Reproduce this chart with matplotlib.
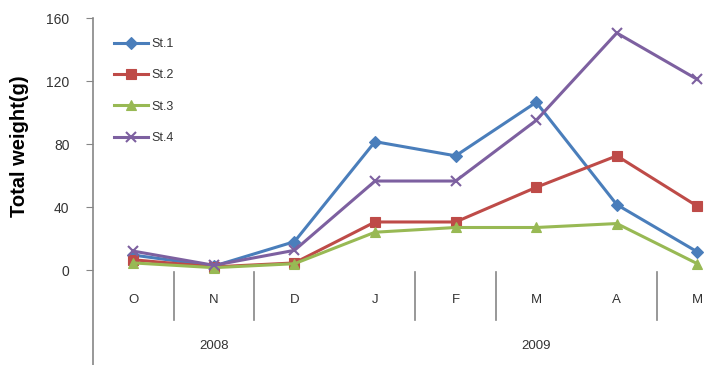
import matplotlib
matplotlib.use("Agg")
import matplotlib.pyplot as plt

plt.rcParams['font.family'] = ['Liberation Sans', 'DejaVu Sans']

months = ["O", "N", "D", "J", "F", "M", "A", "M"]
years = ["2008", "2009"]
st1 = [9.5, 2.5, 18, 81.5, 72.5, 106.5, 41.5, 11.5]
st2 = [6.5, 2, 4.5, 30.5, 30.5, 52.5, 72.5, 40.5]
st3 = [4.5, 1.5, 4, 24, 27, 27, 29.5, 4]
st4 = [12, 3, 12.5, 56.5, 56.5, 95, 150.5, 121]
yticks = [0, 40, 80, 120, 160]

series = [
    ("St.1", st1, "#4A7EBB", "D", 6),
    ("St.2", st2, "#BE4B48", "s", 7),
    ("St.3", st3, "#98B954", "^", 7),
    ("St.4", st4, "#7D60A0", "x", 7),
]

fig = plt.figure(figsize=(7.28, 3.65), dpi=100)
ax = fig.add_axes([93 / 728, 0.0, 1 - 93 / 728, 1 - 18 / 365])

x = list(range(len(months)))
for name, vals, color, mk, ms in series:
    ax.plot(x, vals, color=color, lw=2.2, marker=mk, markersize=ms,
            markeredgewidth=1.5 if mk == "x" else 0.8,
            markerfacecolor=color, markeredgecolor=color, label=name)

ax.set_xlim(-0.5, 7.38)
ax.set_ylim(-60.3, 160)
ax.set_yticks(yticks)
ax.set_yticklabels([str(v) for v in yticks], fontsize=10, color="#333333")
ax.tick_params(axis="y", direction="out", length=5, color="#868686", pad=12)
ax.set_xticks([])

for s in ["top", "right", "bottom"]:
    ax.spines[s].set_visible(False)
ax.spines["left"].set_color("#868686")
ax.spines["left"].set_linewidth(1.2)

# month labels and year labels under the zero line
for i, m in enumerate(months):
    ax.text(i, -19, m, ha="center", va="center", fontsize=9.5, color="#333333")
ax.text(1, -48.5, years[0], ha="center", va="center", fontsize=9.5, color="#333333")
ax.text(5, -48.5, years[1], ha="center", va="center", fontsize=9.5, color="#333333")

# group dividers between months
for xd in [0.5, 1.5, 3.5, 4.5, 6.5]:
    ax.plot([xd, xd], [-1.3, -31.7], color="#868686", lw=1.2, clip_on=False)

ax.set_ylabel("Total weight(g)", fontsize=14.5, fontweight="bold")
ax.yaxis.set_label_coords(-0.1, 0.63)

leg = ax.legend(loc="upper left", bbox_to_anchor=(0.015, 0.975), frameon=False,
                fontsize=9, labelspacing=1.55, handlelength=2.7,
                handletextpad=0.3)
for t in leg.get_texts():
    t.set_color("#333333")

fig.savefig("out.png", dpi=100)
